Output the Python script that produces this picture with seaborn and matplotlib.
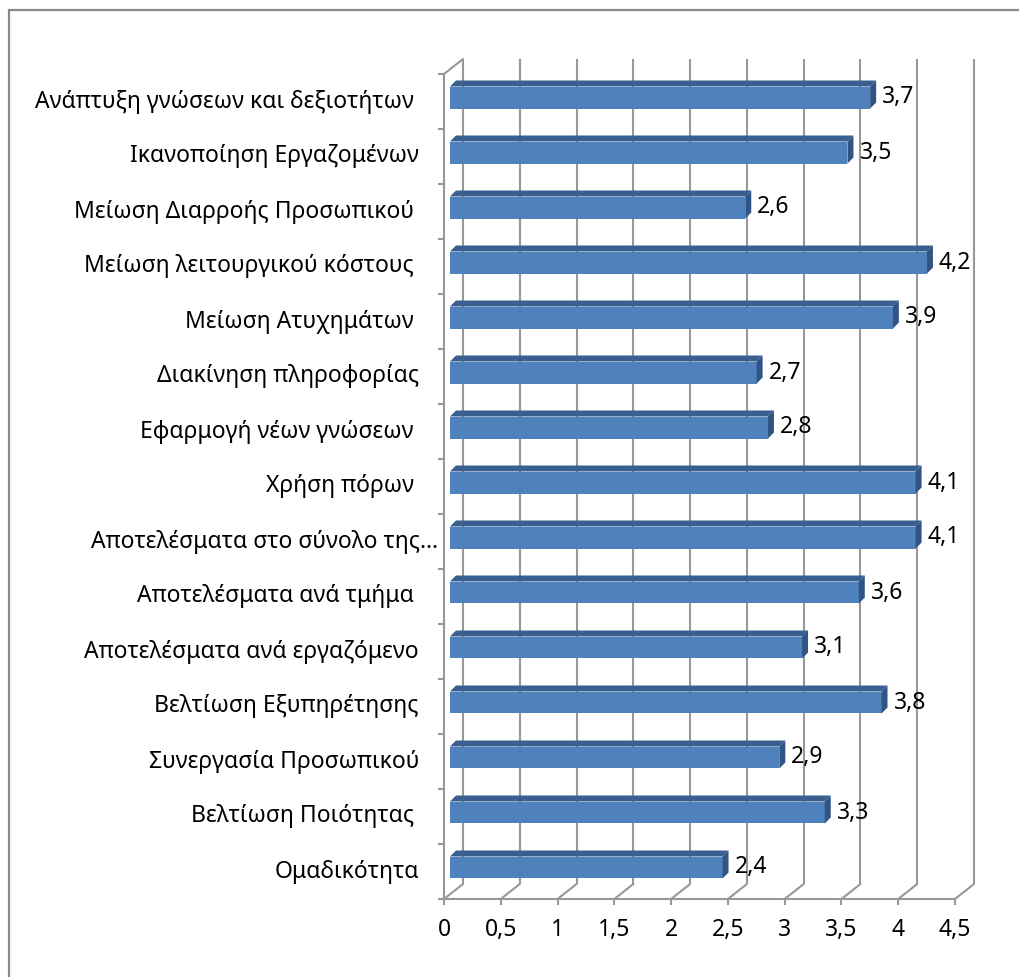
import numpy as np
import pandas as pd
import matplotlib
matplotlib.use("Agg")
import matplotlib.pyplot as plt
import seaborn as sns
from matplotlib.patches import Polygon, Rectangle
from matplotlib.transforms import ScaledTranslation
from matplotlib.ticker import FuncFormatter

# ---- data ---------------------------------------------------------------
categories = [
    "Ανάπτυξη γνώσεων και δεξιοτήτων ",
    "Ικανοποίηση Εργαζομένων",
    "Μείωση Διαρροής Προσωπικού ",
    "Μείωση λειτουργικού κόστους ",
    "Μείωση Ατυχημάτων ",
    "Διακίνηση πληροφορίας",
    "Εφαρμογή νέων γνώσεων ",
    "Χρήση πόρων ",
    "Αποτελέσματα στο σύνολο της…",
    "Αποτελέσματα ανά τμήμα ",
    "Αποτελέσματα ανά εργαζόμενο",
    "Βελτίωση Εξυπηρέτησης",
    "Συνεργασία Προσωπικού",
    "Βελτίωση Ποιότητας ",
    "Ομαδικότητα",
]
scores = [3.7, 3.5, 2.6, 4.2, 3.9, 2.7, 2.8, 4.1, 4.1, 3.6, 3.1, 3.8, 2.9, 3.3, 2.4]
x_ticks = [0, 0.5, 1, 1.5, 2, 2.5, 3, 3.5, 4, 4.5]

# ---- style --------------------------------------------------------------
FRONT = "#4F81BD"
TOP = "#395F90"
SIDE = "#2F5485"
GRID = "#989898"
FONT = 16.5

sns.set_theme(style="white")
plt.rcParams["font.family"] = ["Noto Sans", "DejaVu Sans"]

W, H, DPI = 1019, 977, 100
fig = plt.figure(figsize=(W / DPI, H / DPI), dpi=DPI)
fig.patch.set_facecolor("white")

# outer chart frame
fig.add_artist(Rectangle((9 / W, -0.1), 1.2, 1.1 - 10 / H, transform=fig.transFigure,
                         fill=False, edgecolor="#8A8A8A", linewidth=1.6))

# front plane of the 3-D box (pixel geometry)
left_px, right_px, top_px, bottom_px = 444, 955, 74, 899
ax = fig.add_axes([left_px / W, 1 - bottom_px / H,
                   (right_px - left_px) / W, (bottom_px - top_px) / H])
ax.patch.set_alpha(0)

n = len(categories)
xmax = x_ticks[-1]
px_x = (right_px - left_px) / xmax       # pixels per unit on x
px_y = (bottom_px - top_px) / n          # pixels per category


def shift(dx, dy):
    return ScaledTranslation(dx / DPI, dy / DPI, fig.dpi_scale_trans)


df = pd.DataFrame({"category": categories, "score": scores})
BAR_W = 0.4
sns.barplot(data=df, x="score", y="category", orient="h", color=FRONT,
            saturation=1, width=BAR_W, linewidth=0, ax=ax, zorder=3)

ax.set_xlim(0, xmax)
ax.set_ylim(n - 0.5, -0.5)

# bars sit part-way into the depth of the box
BAR_DX, BAR_DY = 6, 4
DEPTH_DX, DEPTH_DY = 6, 6
bar_tr = ax.transData + shift(BAR_DX, BAR_DY)
for p in ax.patches:
    p.set_transform(bar_tr)

ddx = DEPTH_DX / px_x
ddy = DEPTH_DY / px_y
half = BAR_W / 2
for i, v in enumerate(scores):
    top = Polygon([(0, i - half), (v, i - half), (v + ddx, i - half - ddy), (ddx, i - half - ddy)],
                  closed=True, facecolor=TOP, edgecolor="none", transform=bar_tr, zorder=3)
    side = Polygon([(v, i - half), (v + ddx, i - half - ddy), (v + ddx, i + half - ddy), (v, i + half)],
                   closed=True, facecolor=SIDE, edgecolor="none", transform=bar_tr, zorder=3)
    ax.add_patch(top)
    ax.add_patch(side)
    ax.annotate(f"{v:g}".replace(".", ","), xy=(v, i), xycoords=bar_tr,
                xytext=(DEPTH_DX + 6, 0), textcoords="offset pixels",
                ha="left", va="center", fontsize=FONT, color="black", zorder=4)

# back wall and floor gridlines
BACK_DX, BACK_DY = 19, 15
back_tr = ax.transData + shift(BACK_DX, BACK_DY)
bdx = BACK_DX / px_x
bdy = BACK_DY / px_y
for t in x_ticks:
    ax.plot([t, t], [-0.5, n - 0.5], transform=back_tr, color=GRID, lw=1.5,
            zorder=1, clip_on=False, solid_capstyle="butt")
    ax.plot([t, t + bdx], [n - 0.5, n - 0.5 - bdy], color=GRID, lw=1.5,
            zorder=1, clip_on=False)
ax.plot([0, bdx], [-0.5, -0.5 - bdy], color=GRID, lw=1.5, zorder=1, clip_on=False)

# front axes
for s in ["top", "right"]:
    ax.spines[s].set_visible(False)
for s in ["left", "bottom"]:
    ax.spines[s].set_color(GRID)
    ax.spines[s].set_linewidth(1.5)
    ax.spines[s].set_zorder(1)

ax.set_xticks(x_ticks)
ax.xaxis.set_major_formatter(FuncFormatter(lambda v, _: f"{v:g}".replace(".", ",")))
ax.tick_params(axis="x", which="major", direction="out", length=4.5, width=1.5,
               color=GRID, labelsize=FONT, labelcolor="black", pad=9, bottom=True)

# category ticks sit on the boundaries between bars
ax.set_yticks(np.arange(-0.5, n, 1.0), labels=[])
ax.tick_params(axis="y", which="major", direction="out", length=4.5, width=1.5,
               color=GRID, left=True)

# category names; a truncated name runs closer to the axis
ytr = ax.get_yaxis_transform()
for i, name in enumerate(categories):
    gap = 6 if name.endswith("…") else 25
    ax.annotate(name.rstrip(), xy=(0, i), xycoords=ytr,
                xytext=(-gap - (5 if name.endswith(" ") else 0), 0),
                textcoords="offset pixels", ha="right", va="center",
                fontsize=FONT, color="black", annotation_clip=False)
ax.set_xlabel("")
ax.set_ylabel("")

fig.savefig("out.png", dpi=DPI, facecolor="white")
